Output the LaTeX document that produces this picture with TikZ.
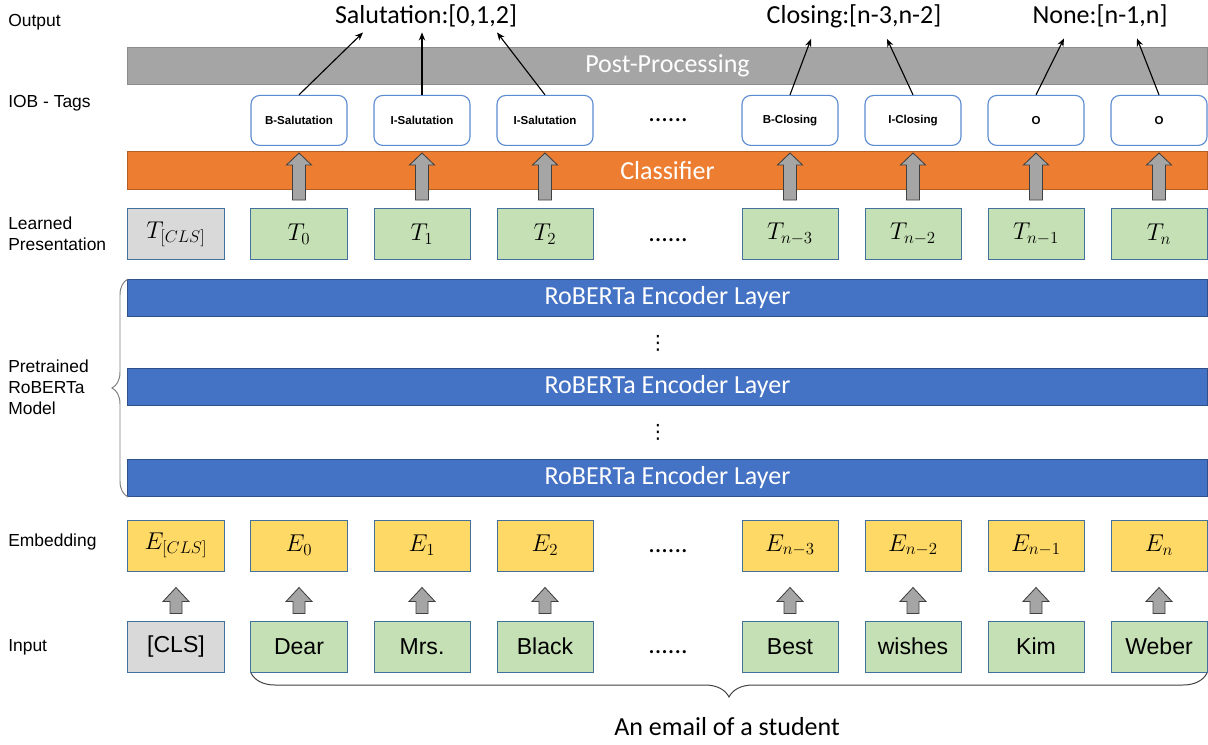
\documentclass[tikz,border=0pt]{standalone}
\usepackage{fontspec}
\setmainfont{Liberation Sans}
\newfontfamily\carlito{Carlito}
\newfontfamily\dejavu{DejaVu Sans}
\usepackage{tikz}
\usetikzlibrary{shapes,arrows,positioning,calc,decorations.pathreplacing,arrows.meta}

\definecolor{boxgreen}{HTML}{C5E0B4}
\definecolor{boxyellow}{HTML}{FFD966}
\definecolor{boxgray}{HTML}{D9D9D9}
\definecolor{boxedge}{HTML}{41719C}
\definecolor{barblue}{HTML}{4472C4}
\definecolor{barorange}{HTML}{ED7D31}
\definecolor{bargray}{HTML}{A5A5A5}
\definecolor{tagedge}{HTML}{5B8BD0}

\tikzset{
    rowlabel/.style={anchor=west, align=left, inner sep=0pt, font=\fontsize{12.4}{15}\selectfont},
    tok/.style={draw=boxedge, line width=0.7pt, minimum width=2.4cm, minimum height=1.275cm, inner sep=0pt, font=\fontsize{16.4}{19}\selectfont},
    vec/.style={tok, font=\fontsize{17.5}{20}\selectfont},
    tagbox/.style={draw=tagedge, fill=white, rounded corners=0.22cm, line width=0.8pt, minimum width=2.4cm, minimum height=1.25cm, inner sep=0pt, font=\fontsize{8.2}{10}\selectfont\bfseries},
    bar/.style={minimum width=26.975cm, minimum height=0.93cm, inner sep=0pt, line width=0.6pt, text=white, font=\carlito\fontsize{18.5}{22}\selectfont},
    fatarrow/.style={fill=bargray, draw=black!75, line width=0.6pt},
    outtext/.style={inner sep=0pt, font=\carlito\fontsize{18.5}{22}\selectfont},
    outarrow/.style={-{Stealth[length=0.2cm, width=0.16cm]}, line width=0.8pt},
    vdot/.style={inner sep=0pt, font=\dejavu\fontsize{14}{16}\selectfont},
}

\begin{document}
\begin{tikzpicture}[x=0.025cm, y=-0.025cm]
    \useasboundingbox (0,0) rectangle (1208,744);

    % Row labels
    \node[rowlabel] (lOut) at (8,22) {Output};
    \node[rowlabel] (lTags) at (8,103) {IOB - Tags};
    \node[rowlabel] (lLearn) at (8,234) {Learned\\Presentation};
    \node[rowlabel] (lModel) at (8,387) {Pretrained\\RoBERTa\\Model};
    \node[rowlabel] (lEmb) at (8,542) {Embedding};
    \node[rowlabel] (lIn) at (8,647) {Input};

    % Bars
    \node[bar, fill=bargray, draw=black!45] (post) at (667.5,66) {Post-Processing};
    \node[bar, fill=barorange, draw=barorange!75!black] (clf) at (667.5,170.5) {Classifier};
    \foreach \y/\n in {298/1, 387/2, 478/3} {
        \node[bar, fill=barblue, draw=barblue!70!black] (enc\n) at (667.5,\y) {RoBERTa Encoder Layer};
    }
    \node[vdot] (vd1) at (658,343) {⋮};
    \node[vdot] (vd2) at (658,432) {⋮};

    % CLS column
    \node[tok, fill=boxgray] (incls) at (176,646.5) {[CLS]};
    \node[vec, fill=boxyellow, above=1.225cm of incls] (ecls) {$E_{[CLS]}$};
    \node[vec, fill=boxgray] (tcls) at (176,234) {$T_{[CLS]}$};

    % Token columns
    \foreach \x/\i/\word/\sub in {299/0/Dear/0, 422/1/Mrs./1, 545/2/Black/2, 790/3/Best/n-3, 913/4/wishes/n-2, 1036/5/Kim/n-1, 1159/6/Weber/n} {
        \node[tok, fill=boxgreen] (in\i) at (\x,646.5) {\word};
        \node[vec, fill=boxyellow, above=1.225cm of in\i] (e\i) {$E_{\sub}$};
        \node[vec, fill=boxgreen] (t\i) at (\x,234) {$T_{\sub}$};
    }

    % IOB tags
    \foreach \i/\tag in {0/B-Salutation, 1/I-Salutation, 2/I-Salutation, 3/B-Closing, 4/I-Closing, 5/O, 6/O} {
        \node[tagbox, above=1.55cm of t\i] (tag\i) {\tag};
        \draw[fatarrow] (t\i.north) ++(-6.5,-8) -- ++(0,-35) -- ++(-6,0) -- ++(12.5,-12) -- ++(12.5,12) -- ++(-6,0) -- ++(0,35) -- cycle;
    }

    % Input -> embedding
    \foreach \i in {cls,0,1,2,3,4,5,6} {
        \draw[fatarrow] (in\i.north) ++(-6,-7) -- ++(0,-12) -- ++(-7,0) -- ++(13,-14) -- ++(13,14) -- ++(-7,0) -- ++(0,12) -- cycle;
    }

    % Gaps
    \foreach \y/\n in {120/a, 240/b, 551/c, 652/d} {
        \node[outtext] (gap\n) at (668,\y) {......};
    }

    % Output
    \node[outtext] (oSal) at (426,16) {Salutation:[0,1,2]};
    \node[outtext] (oClo) at (854,16) {Closing:[n-3,n-2]};
    \node[outtext] (oNone) at (1100,16) {None:[n-1,n]};
    \draw[outarrow] (tag0.north) -- ($(oSal.south)+(-63,5)$);
    \draw[outarrow] (tag1.north) -- ($(oSal.south)+(-4,5)$);
    \draw[outarrow] (tag2.north) -- ($(oSal.south)+(71,5)$);
    \draw[outarrow] (tag3.north) -- ($(oClo.south)+(-43,11)$);
    \draw[outarrow] (tag4.north) -- ($(oClo.south)+(33,11)$);
    \draw[outarrow] (tag5.north) -- ($(oNone.south)+(-36,11)$);
    \draw[outarrow] (tag6.north) -- ($(oNone.south)+(37,11)$);

    % Braces
    \draw[black!50, line width=0.7pt, decorate, decoration={brace, amplitude=0.4cm}] (128,497) -- (128,279);
    \draw[black!75, line width=0.7pt, decorate, decoration={brace, mirror, amplitude=0.6cm}] (251,673) -- (1207,673);
    \node[outtext] (email) at (727,727) {An email of a student};
\end{tikzpicture}
\end{document}
